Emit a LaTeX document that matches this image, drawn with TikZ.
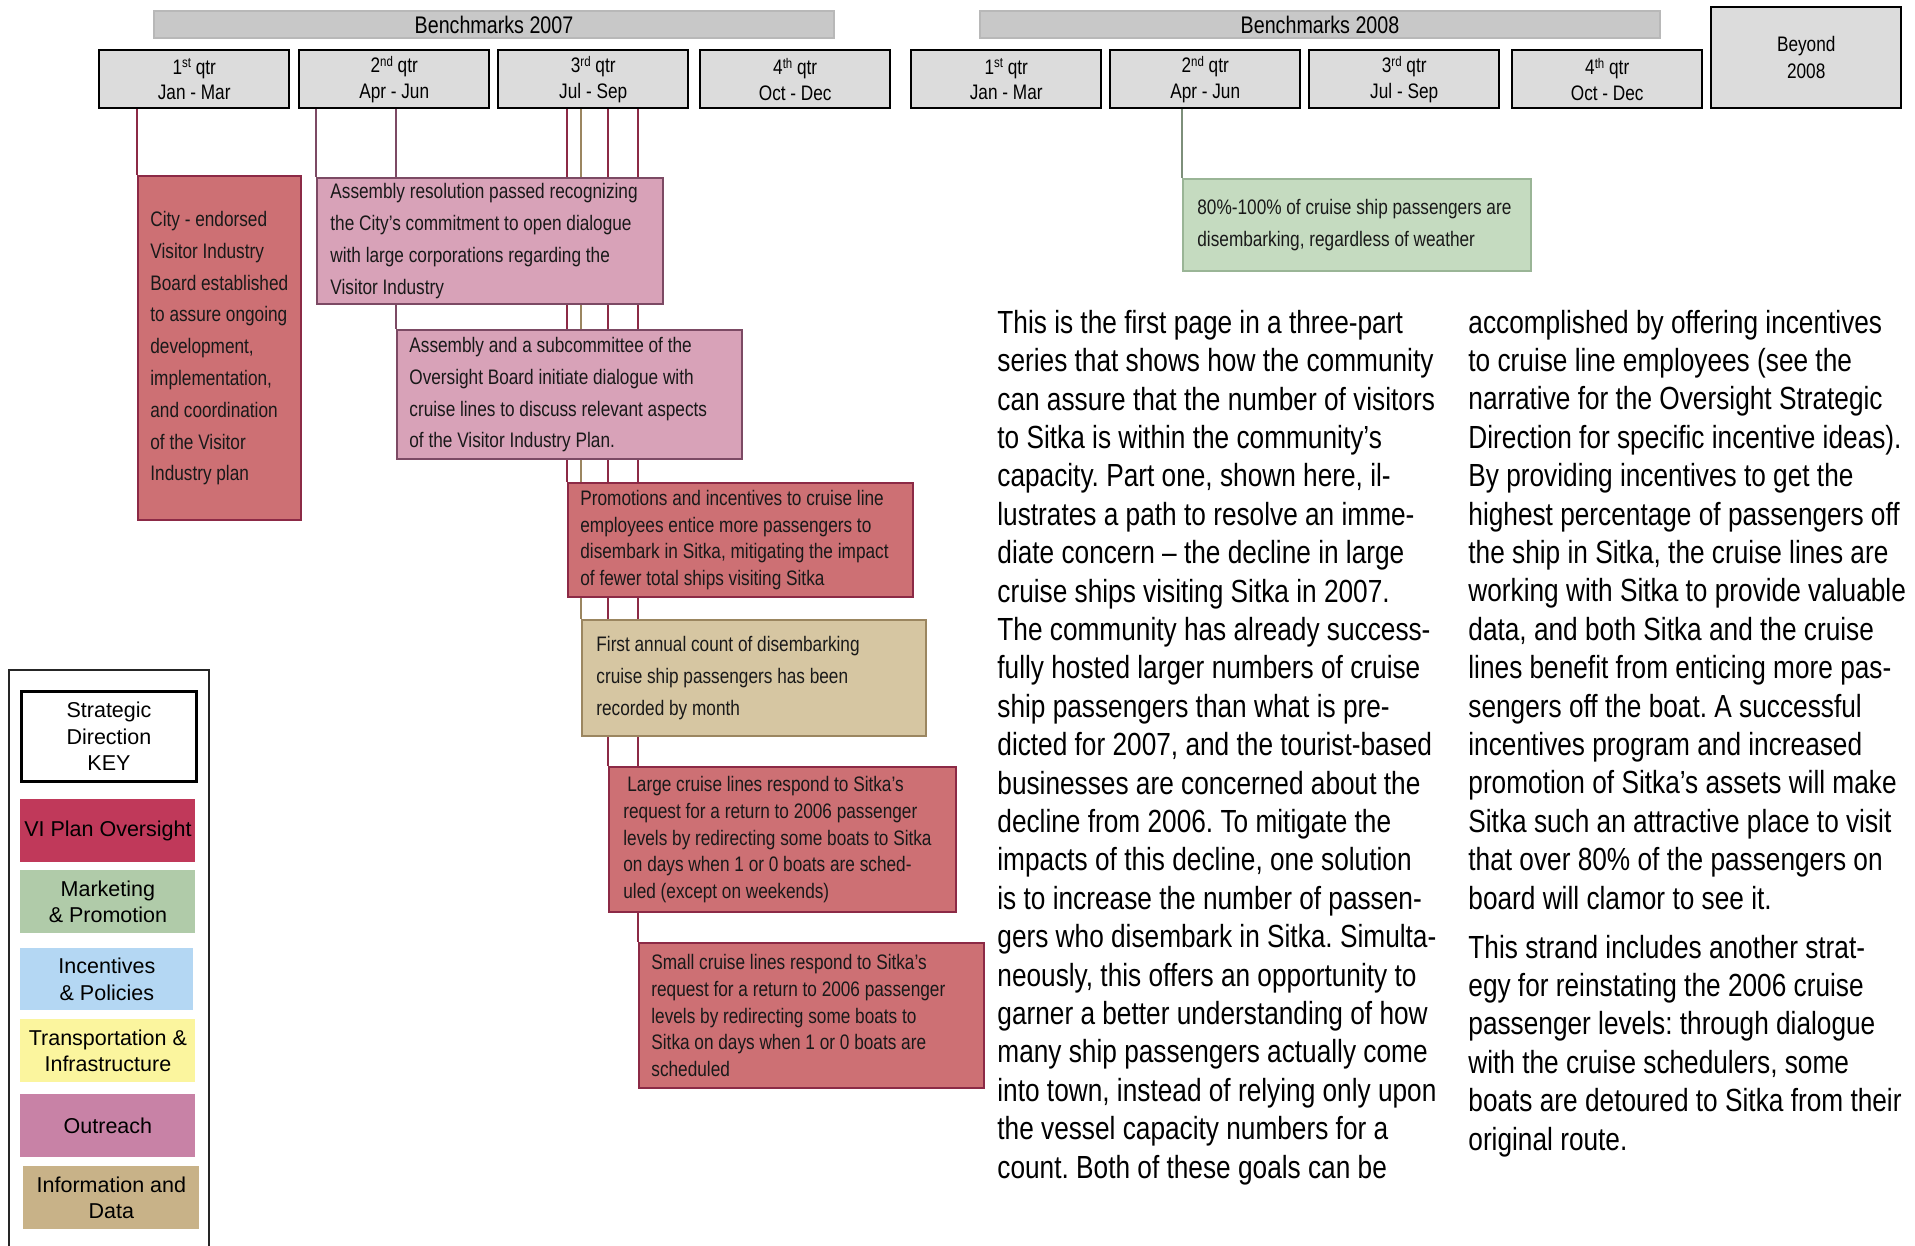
\documentclass[tikz,border=0pt]{standalone}
\usepackage{fontspec}
\setmainfont{Liberation Sans}
\newfontfamily\nar{Liberation Sans}[FakeStretch=0.82]
\usetikzlibrary{backgrounds}
\frenchspacing

\definecolor{redfill}{HTML}{CD7074}
\definecolor{redline}{HTML}{8C2A46}
\definecolor{pinkfill}{HTML}{D8A2B8}
\definecolor{pinkline}{HTML}{7C4A64}
\definecolor{tanfill}{HTML}{D6C6A2}
\definecolor{tanline}{HTML}{9B8660}
\definecolor{greenfill}{HTML}{C5DBC0}
\definecolor{greenline}{HTML}{9AB596}
\definecolor{greenconn}{HTML}{7D8F7A}
\definecolor{qfill}{HTML}{DCDCDC}
\definecolor{bfill}{HTML}{C8C8C8}
\definecolor{bline}{HTML}{B8B8B8}
\definecolor{kVI}{HTML}{C0395A}
\definecolor{kMP}{HTML}{B0CBA9}
\definecolor{kIP}{HTML}{B4D7F3}
\definecolor{kTI}{HTML}{FBF59E}
\definecolor{kOU}{HTML}{C882A6}
\definecolor{kID}{HTML}{C8B288}

\newcommand\sups[1]{\raisebox{0.6ex}{\fontsize{7pt}{7pt}\selectfont #1}}

\tikzset{
  box/.style={draw, line width=1.2pt, inner sep=0pt, anchor=north west},
  redbox/.style={box, draw=redline, fill=redfill},
  pinkbox/.style={box, draw=pinkline, fill=pinkfill},
  tanbox/.style={box, draw=tanline, fill=tanfill},
  greenbox/.style={box, draw=greenline, fill=greenfill},
  boxtxt/.style={anchor=west, align=left, inner sep=0pt, text=black!90,
    font=\nar\fontsize{10.5pt}{15.9pt}\selectfont},
  tighttxt/.style={boxtxt, font=\nar\fontsize{10.5pt}{13.35pt}\selectfont},
  qbox/.style={draw=black, fill=qfill, line width=1.2pt, anchor=north west,
    inner sep=0pt, align=center, minimum width=95pt, minimum height=29pt,
    font=\nar\fontsize{10.5pt}{12.7pt}\selectfont},
  bench/.style={draw=bline, fill=bfill, line width=1pt, anchor=north west,
    inner sep=0pt, minimum width=340pt, minimum height=13.5pt,
    font=\nar\fontsize{12pt}{14pt}\selectfont},
  conn/.style={line width=1pt},
  keybox/.style={anchor=north west, inner sep=0pt, align=center,
    minimum width=87.5pt, minimum height=31.5pt,
    font=\fontsize{10.75pt}{13.2pt}\selectfont},
  body/.style={anchor=base west, align=left, inner sep=0pt,
    font=\nar\fontsize{16pt}{19.2pt}\selectfont\frenchspacing}
}

\begin{document}
\begin{tikzpicture}[x=0.5pt,y=-0.5pt]
\useasboundingbox (0,0) rectangle (1915,1246);

% Benchmark bars
\node[bench] (b2007) at (153,10) {Benchmarks 2007};
\node[bench] (b2008) at (979,10) {Benchmarks 2008};

% Quarter boxes
\node[qbox] (q1a) at (98,49)  {1\sups{st} qtr\\Jan - Mar};
\node[qbox] (q2a) at (298,49) {2\sups{nd} qtr\\Apr - Jun};
\node[qbox] (q3a) at (497,49) {3\sups{rd} qtr\\Jul - Sep};
\node[qbox] (q4a) at (699,49) {4\sups{th} qtr\\Oct - Dec};
\node[qbox] (q1b) at (910,49) {1\sups{st} qtr\\Jan - Mar};
\node[qbox] (q2b) at (1109,49) {2\sups{nd} qtr\\Apr - Jun};
\node[qbox] (q3b) at (1308,49) {3\sups{rd} qtr\\Jul - Sep};
\node[qbox] (q4b) at (1511,49) {4\sups{th} qtr\\Oct - Dec};
\node[qbox, minimum height=50.5pt, font=\nar\fontsize{10.5pt}{13.5pt}\selectfont] (beyond) at (1710,6) {Beyond\\2008};

% Event boxes
\node[redbox, minimum width=81.5pt, minimum height=172pt] (city) at (137,175) {};
\node[boxtxt] (citytxt) at ([xshift=6.5pt]city.west)
  {City - endorsed\\Visitor Industry\\Board established\\to assure ongoing\\development,\\implementation,\\and coordination\\of the Visitor\\Industry plan};

\node[pinkbox, minimum width=173pt, minimum height=63pt] (asm1) at (316,177) {};
\node[boxtxt] (asm1txt) at ([xshift=7pt]asm1.west)
  {Assembly resolution passed recognizing\\the City’s commitment to open dialogue\\with large corporations regarding the\\Visitor Industry};

\node[pinkbox, minimum width=172.5pt, minimum height=64.5pt] (asm2) at (396,329) {};
\node[boxtxt] (asm2txt) at ([xshift=6.5pt]asm2.west)
  {Assembly and a subcommittee of the\\Oversight Board initiate dialogue with\\cruise lines to discuss relevant aspects\\of the Visitor Industry Plan.};

\node[redbox, minimum width=172.5pt, minimum height=57pt] (promo) at (567,482) {};
\node[tighttxt] (promotxt) at ([xshift=6.5pt]promo.west)
  {Promotions and incentives to cruise line\\employees entice more passengers to\\disembark in Sitka, mitigating the impact\\of fewer total ships visiting Sitka};

\node[tanbox, minimum width=172pt, minimum height=58pt] (count) at (581,619) {};
\node[boxtxt] (counttxt) at ([xshift=7.5pt]count.west)
  {First annual count of disembarking\\cruise ship passengers has been\\recorded by month};

\node[redbox, minimum width=173.5pt, minimum height=72.5pt] (large) at (608,766) {};
\node[tighttxt] (largetxt) at ([xshift=7.5pt]large.west)
  {\hspace{2pt}Large cruise lines respond to Sitka’s\\request for a return to 2006 passenger\\levels by redirecting some boats to Sitka\\on days when 1 or 0 boats are sched-\\uled (except on weekends)};

\node[redbox, minimum width=172.5pt, minimum height=72.5pt] (small) at (638,942) {};
\node[tighttxt] (smalltxt) at ([xshift=6.5pt]small.west)
  {Small cruise lines respond to Sitka’s\\request for a return to 2006 passenger\\levels by redirecting some boats to\\Sitka on days when 1 or 0 boats are\\scheduled};

\node[greenbox, minimum width=174pt, minimum height=46pt] (green) at (1182,178) {};
\node[boxtxt] (greentxt) at ([xshift=7.5pt]green.west)
  {80\%-100\% of cruise ship passengers are\\disembarking, regardless of weather};

% Connectors (behind boxes)
\begin{scope}[on background layer]
\draw[conn, redline]  (q1a.south -| city.north west)  -- (city.north west);
\draw[conn, pinkline] (q2a.south -| asm1.north west)  -- (asm1.north west);
\draw[conn, pinkline] (q2a.south -| asm2.north west)  -- (asm2.north west);
\draw[conn, redline]  (q3a.south -| promo.north west) -- (promo.north west);
\draw[conn, tanline]  (q3a.south -| count.north west) -- (count.north west);
\draw[conn, redline]  (q3a.south -| large.north west) -- (large.north west);
\draw[conn, redline]  (q3a.south -| small.north west) -- (small.north west);
\draw[conn, greenconn] (q2b.south -| green.north west) -- (green.north west);
\end{scope}

% Legend
\draw[line width=1.2pt, black!85] (9,1246) -- (9,670) -- (209,670) -- (209,1246);
\node[keybox, draw=black, fill=white, line width=1.5pt, minimum height=45pt] (keyhead) at (20,690) {Strategic\\Direction\\KEY};
\node[keybox, fill=kVI] (kvi) at (20,799) {VI Plan Oversight};
\node[keybox, fill=kMP] (kmp) at (20,870) {Marketing\\\& Promotion};
\node[keybox, fill=kIP, minimum width=86.5pt, minimum height=31pt] (kip) at (20,948) {Incentives\\\& Policies};
\node[keybox, fill=kTI] (kti) at (20,1019) {Transportation \&\\Infrastructure};
\node[keybox, fill=kOU] (kou) at (20,1094) {Outreach};
\node[keybox, fill=kID, minimum width=88pt] (kid) at (23,1166) {Information and\\Data};

% Body text (base anchor = baseline of the last line)
\node[body] (col1) at (997,1178) {This is the first page in a three-part\\
series that shows how the community\\
can assure that the number of visitors\\
to Sitka is within the community’s\\
capacity. Part one, shown here, il-\\
lustrates a path to resolve an imme-\\
diate concern – the decline in large\\
cruise ships visiting Sitka in 2007.\\
The community has already success-\\
fully hosted larger numbers of cruise\\
ship passengers than what is pre-\\
dicted for 2007, and the tourist-based\\
businesses are concerned about the\\
decline from 2006. To mitigate the\\
impacts of this decline, one solution\\
is to increase the number of passen-\\
gers who disembark in Sitka. Simulta-\\
neously, this offers an opportunity to\\
garner a better understanding of how\\
many ship passengers actually come\\
into town, instead of relying only upon\\
the vessel capacity numbers for a\\
count. Both of these goals can be};

\node[body] (col2) at (1468,1150) {accomplished by offering incentives\\
to cruise line employees (see the\\
narrative for the Oversight Strategic\\
Direction for specific incentive ideas).\\
By providing incentives to get the\\
highest percentage of passengers off\\
the ship in Sitka, the cruise lines are\\
working with Sitka to provide valuable\\
data, and both Sitka and the cruise\\
lines benefit from enticing more pas-\\
sengers off the boat. A successful\\
incentives program and increased\\
promotion of Sitka’s assets will make\\
Sitka such an attractive place to visit\\
that over 80\% of the passengers on\\
board will clamor to see it.\\[5.3pt]
This strand includes another strat-\\
egy for reinstating the 2006 cruise\\
passenger levels: through dialogue\\
with the cruise schedulers, some\\
boats are detoured to Sitka from their\\
original route.};
\end{tikzpicture}
\end{document}
